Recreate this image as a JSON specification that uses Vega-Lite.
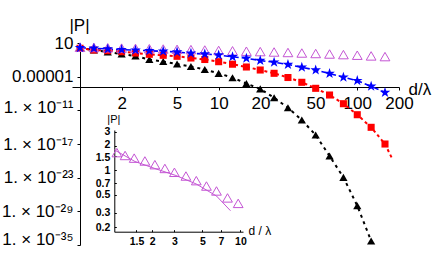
{
  "$schema": "https://vega.github.io/schema/vega-lite/v6.json",
  "width": 327,
  "height": 202,
  "autosize": "none",
  "padding": {"left": 72, "top": 43, "right": 37, "bottom": 24},
  "background": "white",
  "config": {
    "view": {"stroke": null},
    "axis": {"grid": false, "domainColor": "#000", "tickColor": "#000", "labelColor": "#000", "titleColor": "#000", "labelFont": "Liberation Sans", "titleFont": "Liberation Sans", "titleFontWeight": "normal", "domainWidth": 1, "tickWidth": 1, "labelFlush": false, "labelOverlap": false}
  },
  "datasets": {
    "pts": [
      {"s": "black", "d": 1, "P": 1.285}, {"s": "black", "d": 1.259, "P": 0.565}, {"s": "black", "d": 1.585, "P": 0.249}, {"s": "black", "d": 1.995, "P": 0.1094},
      {"s": "black", "d": 2.512, "P": 0.0482}, {"s": "black", "d": 3.162, "P": 0.01146}, {"s": "black", "d": 3.981, "P": 0.00504}, {"s": "black", "d": 5.012, "P": 0.001807},
      {"s": "black", "d": 6.31, "P": 6.47e-4}, {"s": "black", "d": 7.943, "P": 1.888e-4}, {"s": "black", "d": 10, "P": 3.97e-5}, {"s": "black", "d": 12.59, "P": 6.53e-6},
      {"s": "black", "d": 15.85, "P": 6.04e-7}, {"s": "black", "d": 19.95, "P": 6.5e-8}, {"s": "black", "d": 25.12, "P": 1.778e-9}, {"s": "black", "d": 31.62, "P": 2.93e-11},
      {"s": "black", "d": 39.81, "P": 1.884e-13}, {"s": "black", "d": 50.12, "P": 3.99e-16}, {"s": "black", "d": 63.1, "P": 7.19e-20}, {"s": "black", "d": 79.43, "P": 1.151e-23},
      {"s": "black", "d": 100, "P": 9.95e-29}, {"s": "black", "d": 125.9, "P": 5.08e-35},
      {"s": "red", "d": 1, "P": 1.135}, {"s": "red", "d": 1.259, "P": 0.565}, {"s": "red", "d": 1.585, "P": 0.424}, {"s": "red", "d": 1.995, "P": 0.281},
      {"s": "red", "d": 2.512, "P": 0.1648}, {"s": "red", "d": 3.162, "P": 0.0968}, {"s": "red", "d": 3.981, "P": 0.0641}, {"s": "red", "d": 5.012, "P": 0.0426},
      {"s": "red", "d": 6.31, "P": 0.0212}, {"s": "red", "d": 7.943, "P": 0.01146}, {"s": "red", "d": 10, "P": 0.00465}, {"s": "red", "d": 12.59, "P": 0.001663},
      {"s": "red", "d": 15.85, "P": 5.27e-4}, {"s": "red", "d": 19.95, "P": 1.538e-4}, {"s": "red", "d": 25.12, "P": 3.97e-5}, {"s": "red", "d": 31.62, "P": 7.08e-6},
      {"s": "red", "d": 39.81, "P": 9.89e-7}, {"s": "red", "d": 50.12, "P": 8.41e-8}, {"s": "red", "d": 63.1, "P": 5.38e-9}, {"s": "red", "d": 79.43, "P": 1.514e-10},
      {"s": "red", "d": 100, "P": 1.656e-12}, {"s": "red", "d": 125.9, "P": 9.4e-15}, {"s": "red", "d": 158.5, "P": 9.91e-18}, {"s": "red", "d": 178, "P": 2.82e-20, "fit": true},
      {"s": "blue", "d": 1, "P": 1.393}, {"s": "blue", "d": 1.259, "P": 1.135}, {"s": "blue", "d": 1.585, "P": 0.851}, {"s": "blue", "d": 1.995, "P": 0.64},
      {"s": "blue", "d": 2.512, "P": 0.521}, {"s": "blue", "d": 3.162, "P": 0.407}, {"s": "blue", "d": 3.981, "P": 0.331}, {"s": "blue", "d": 5.012, "P": 0.249},
      {"s": "blue", "d": 6.31, "P": 0.1459}, {"s": "blue", "d": 7.943, "P": 0.1094}, {"s": "blue", "d": 10, "P": 0.0726}, {"s": "blue", "d": 12.59, "P": 0.0347},
      {"s": "blue", "d": 15.85, "P": 0.01875}, {"s": "blue", "d": 19.95, "P": 0.0076}, {"s": "blue", "d": 25.12, "P": 0.00363}, {"s": "blue", "d": 31.62, "P": 0.001472},
      {"s": "blue", "d": 39.81, "P": 4.66e-4}, {"s": "blue", "d": 50.12, "P": 1.538e-4}, {"s": "blue", "d": 63.1, "P": 3.66e-5}, {"s": "blue", "d": 79.43, "P": 7.69e-6},
      {"s": "blue", "d": 100, "P": 1.905e-6}, {"s": "blue", "d": 125.9, "P": 1.914e-7}, {"s": "blue", "d": 158.5, "P": 1.5e-8},
      {"s": "purple", "d": 1, "P": 1.782}, {"s": "purple", "d": 1.259, "P": 1.578}, {"s": "purple", "d": 1.585, "P": 1.393}, {"s": "purple", "d": 1.995, "P": 1.233},
      {"s": "purple", "d": 2.512, "P": 1.089}, {"s": "purple", "d": 3.162, "P": 0.964}, {"s": "purple", "d": 3.981, "P": 0.851}, {"s": "purple", "d": 5.012, "P": 0.753},
      {"s": "purple", "d": 6.31, "P": 0.667}, {"s": "purple", "d": 7.943, "P": 0.565}, {"s": "purple", "d": 10, "P": 0.48}, {"s": "purple", "d": 12.59, "P": 0.407},
      {"s": "purple", "d": 15.85, "P": 0.345}, {"s": "purple", "d": 19.95, "P": 0.293}, {"s": "purple", "d": 25.12, "P": 0.249}, {"s": "purple", "d": 31.62, "P": 0.203},
      {"s": "purple", "d": 39.81, "P": 0.1648}, {"s": "purple", "d": 50.12, "P": 0.1343}, {"s": "purple", "d": 63.1, "P": 0.1094}, {"s": "purple", "d": 79.43, "P": 0.0855},
      {"s": "purple", "d": 100, "P": 0.0668}, {"s": "purple", "d": 125.9, "P": 0.0501}, {"s": "purple", "d": 158.5, "P": 0.0377}
    ],
    "inset": [
      {"d": 1.05, "P": 1.66}, {"d": 1.22, "P": 1.53}, {"d": 1.44, "P": 1.42}, {"d": 1.75, "P": 1.31}, {"d": 2.1, "P": 1.18},
      {"d": 2.52, "P": 1.06}, {"d": 3.0, "P": 0.95}, {"d": 3.7, "P": 0.855}, {"d": 4.47, "P": 0.75}, {"d": 5.38, "P": 0.644},
      {"d": 6.46, "P": 0.56}, {"d": 7.9, "P": 0.46}, {"d": 9.6, "P": 0.394}
    ],
    "fit": [
      {"d": 1.0, "P": 1.8}, {"d": 1.46, "P": 1.29}, {"d": 2.1, "P": 1.058}, {"d": 3.08, "P": 0.868},
      {"d": 4.47, "P": 0.682}, {"d": 6.46, "P": 0.4855}, {"d": 8.34, "P": 0.32}
    ]
  },
  "layer": [
    {
      "data": {"name": "pts"},
      "encoding": {
        "x": {"field": "d", "type": "quantitative",
          "scale": {"type": "log", "domain": [0.875, 200], "nice": false},
          "axis": {"orient": "bottom", "offset": -158, "values": [2, 5, 10, 20, 50, 100, 200], "format": "d",
            "labelFontSize": 17, "tickSize": 3, "labelPadding": 5,
            "title": "d/λ", "titleFontSize": 17, "titleX": 336, "titleY": 2, "titleAlign": "left", "titleBaseline": "middle"}},
        "y": {"field": "P", "type": "quantitative",
          "scale": {"type": "log", "domain": [1e-35, 10], "nice": false},
          "axis": {"orient": "left", "offset": -8, "values": [10, 1e-5, 1e-11, 1e-17, 1e-23, 1e-29, 1e-35],
            "labelExpr": "datum.value > 1 ? '10' : datum.value > 1e-6 ? '0.00001' : datum.value > 1e-12 ? '1. × 10⁻¹¹' : datum.value > 1e-18 ? '1. × 10⁻¹⁷' : datum.value > 1e-24 ? '1. × 10⁻²³' : datum.value > 1e-30 ? '1. × 10⁻²⁹' : '1. × 10⁻³⁵'",
            "labelOffset": {"condition": [{"test": "datum.value < 1e-30", "value": -6}, {"test": "datum.value < 1e-10 && datum.value > 1e-12", "value": -3}], "value": 0},
            "labelFontSize": 17, "tickSize": 3, "labelPadding": 4,
            "title": "|P|", "titleFontSize": 17, "titleAngle": 0, "titleX": -1, "titleY": -18, "titleAlign": "center", "titleBaseline": "middle"}}
      },
      "layer": [
        {"transform": [{"filter": "datum.s === 'black'"}], "mark": {"type": "line", "color": "#000", "strokeDash": [3, 4], "strokeWidth": 2}},
        {"transform": [{"filter": "datum.s === 'red'"}], "mark": {"type": "line", "color": "#ff0000", "strokeDash": [3, 3], "strokeWidth": 2}},
        {"transform": [{"filter": "datum.s === 'blue'"}], "mark": {"type": "line", "color": "#0000ff", "strokeDash": [6, 3], "strokeWidth": 1.6}},
        {"transform": [{"filter": "datum.s === 'black'"}], "mark": {"type": "point", "shape": "triangle-up", "filled": true, "color": "#000", "size": 68, "opacity": 1}},
        {"transform": [{"filter": "datum.s === 'red' && !datum.fit"}], "mark": {"type": "point", "shape": "square", "filled": true, "color": "#ff0000", "size": 50, "opacity": 1}},
        {"transform": [{"filter": "datum.s === 'purple'"}], "mark": {"type": "point", "shape": "triangle-up", "filled": false, "color": "#c455d4", "size": 95, "strokeWidth": 1, "opacity": 1}},
        {"transform": [{"filter": "datum.s === 'blue'"}], "mark": {"type": "point", "shape": "M0,-1L0.2245,-0.309L0.951,-0.309L0.363,0.118L0.588,0.809L0,0.382L-0.588,0.809L-0.363,0.118L-0.951,-0.309L-0.2245,-0.309Z", "filled": true, "color": "#0000ff", "size": 125, "opacity": 1}}
      ]
    },
    {
      "encoding": {
        "x": {"field": "d", "type": "quantitative",
          "scale": {"type": "log", "domain": [1, 10.48], "range": [42.2, 171], "nice": false},
          "axis": {"orient": "top", "offset": -188.7, "values": [1.5, 2, 3, 5, 7, 10], "format": "~g",
            "labelFontSize": 10.5, "labelFontWeight": "bold", "tickSize": 2, "labelPadding": -7, "labelBaseline": "top",
            "title": "d / λ", "titleFontSize": 12, "titleX": 176, "titleY": -1, "titleAlign": "left", "titleBaseline": "middle"}},
        "y": {"field": "P", "type": "quantitative",
          "scale": {"type": "log", "domain": [0.1766, 3.15], "range": [188.7, 87], "nice": false},
          "axis": {"orient": "right", "offset": -284.7, "values": [0.2, 0.3, 0.5, 0.7, 1, 1.5, 2, 3], "format": "~g",
            "labelOffset": {"condition": [{"test": "datum.value === 2", "value": -1.5}, {"test": "datum.value === 1.5", "value": 1}], "value": 0},
            "labelFontSize": 10.5, "labelFontWeight": "bold", "tickSize": 2, "labelPadding": -6.5, "labelAlign": "right",
            "title": "|P|", "titleFontSize": 11, "titleAngle": 0, "titleX": -1, "titleY": 76, "titleAlign": "center", "titleBaseline": "middle"}}
      },
      "layer": [
        {"data": {"name": "fit"}, "mark": {"type": "line", "color": "#c455d4", "strokeWidth": 1}},
        {"data": {"name": "inset"}, "mark": {"type": "point", "shape": "triangle-up", "filled": false, "color": "#c455d4", "size": 95, "strokeWidth": 1, "opacity": 1}}
      ]
    }
  ],
  "resolve": {"scale": {"x": "independent", "y": "independent"}, "axis": {"x": "independent", "y": "independent"}}
}
